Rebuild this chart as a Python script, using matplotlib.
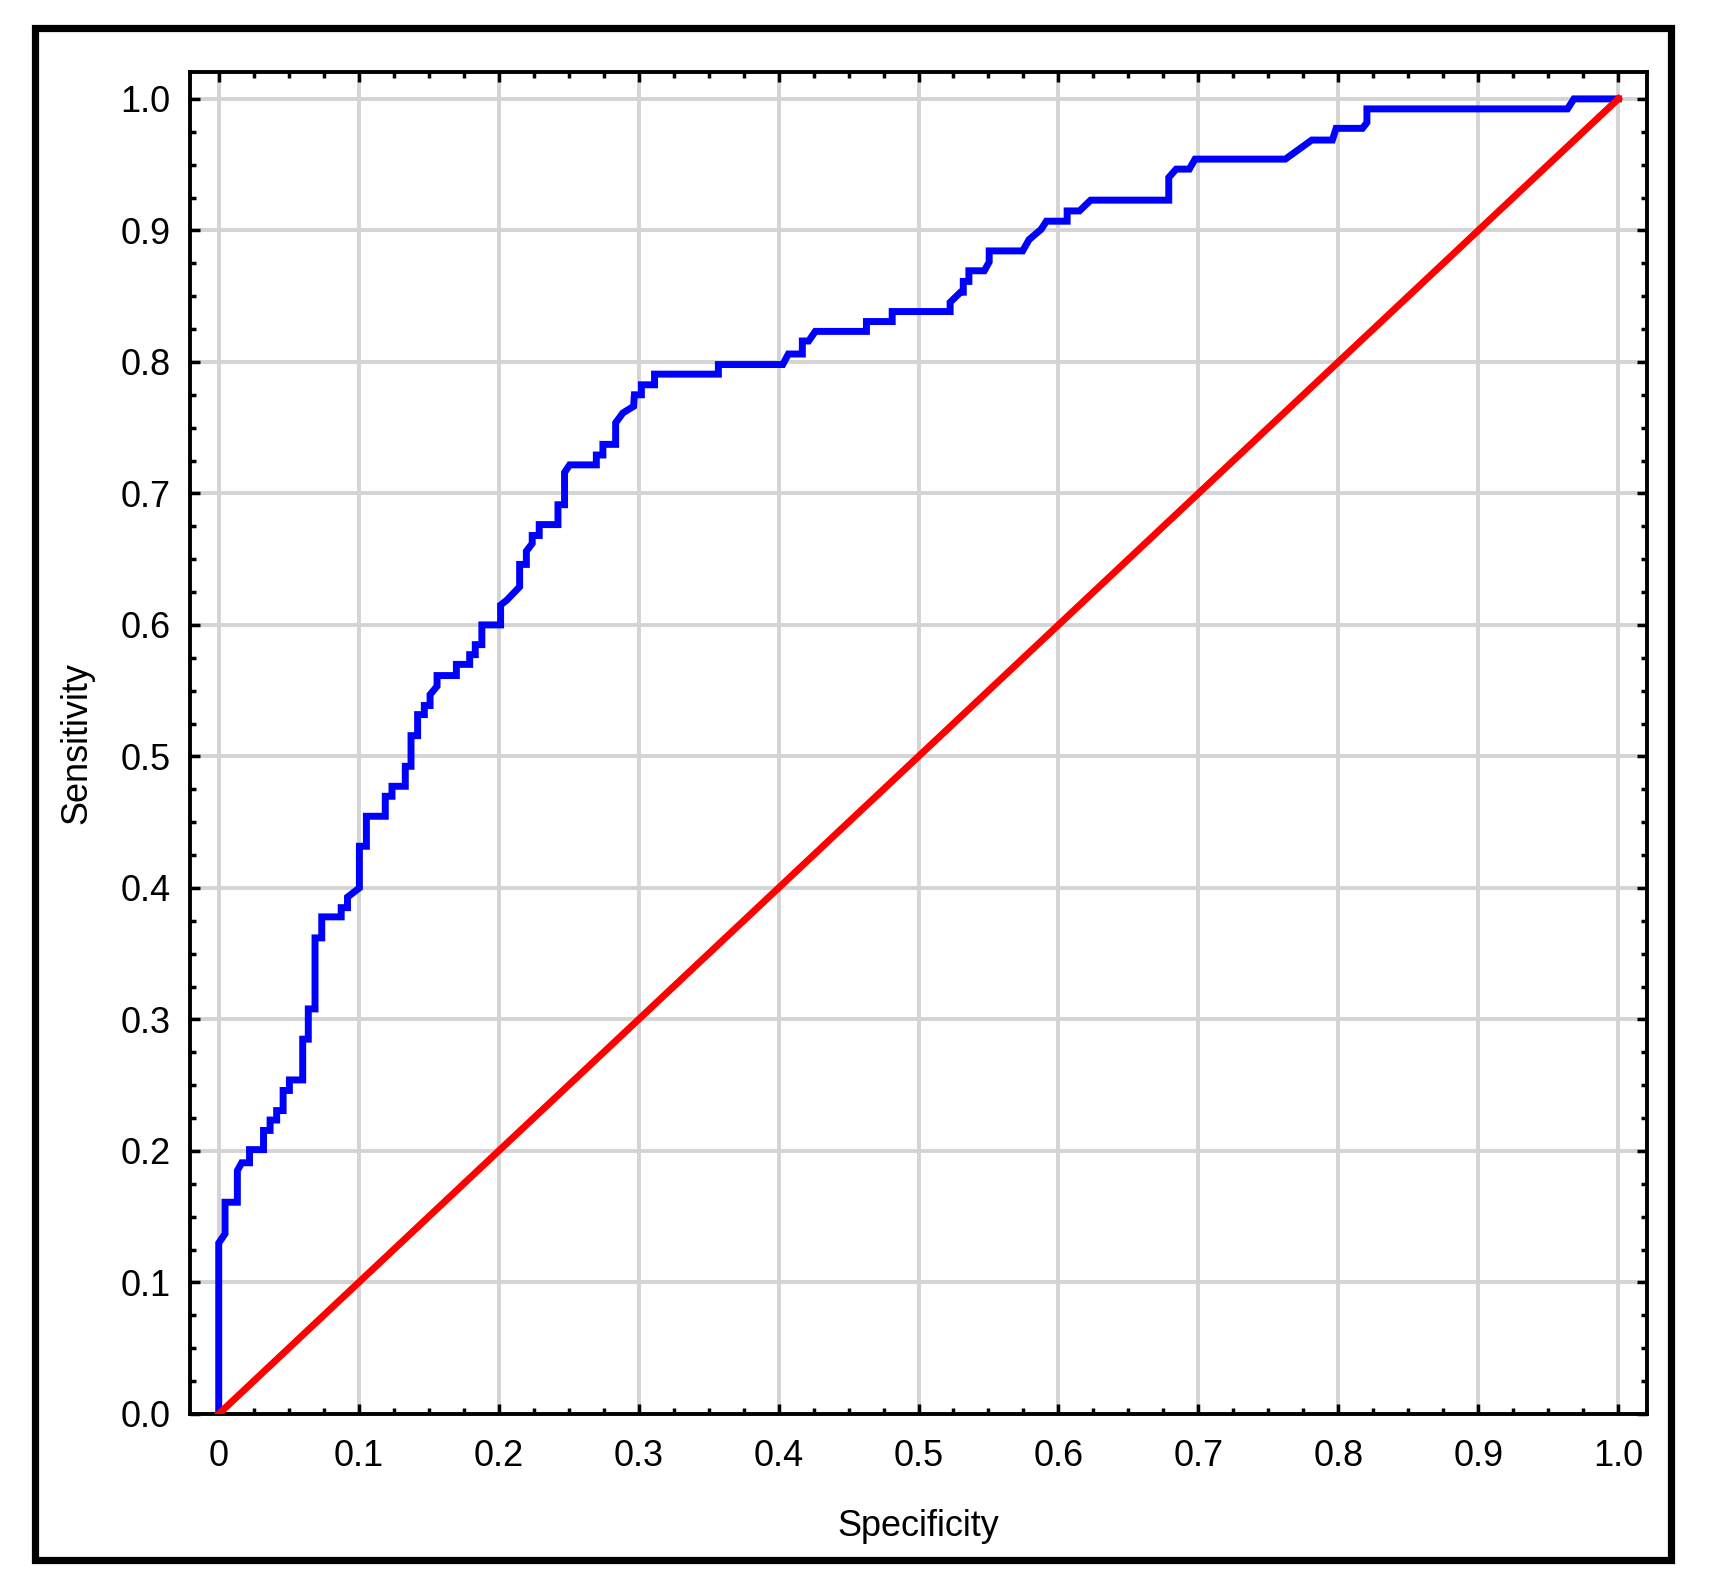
import matplotlib.pyplot as plt
from matplotlib.patches import Rectangle
from matplotlib.ticker import MultipleLocator

plt.rcParams['font.family'] = ['Liberation Sans', 'DejaVu Sans']

# ROC curve vertices (specificity axis, sensitivity)
spec = [0, 0, 0.0045, 0.0045, 0.0133, 0.0133, 0.0164, 0.022, 0.022, 0.032, 0.032,
        0.0367, 0.0367, 0.0414, 0.0414, 0.046, 0.046, 0.0505, 0.0505, 0.06, 0.06,
        0.064, 0.064, 0.0688, 0.0688, 0.0736, 0.0736, 0.0875, 0.0875, 0.092, 0.092,
        0.1005, 0.1005, 0.1055, 0.1055, 0.119, 0.119, 0.1238, 0.1238, 0.1333, 0.1333,
        0.1374, 0.1374, 0.1421, 0.1421, 0.1469, 0.1469, 0.151, 0.151, 0.156, 0.156,
        0.1698, 0.1698, 0.1793, 0.1793, 0.1833, 0.1833, 0.188, 0.188, 0.2014, 0.2014,
        0.206, 0.215, 0.215, 0.2198, 0.2198, 0.224, 0.224, 0.229, 0.229, 0.2424, 0.2424,
        0.2471, 0.2471, 0.2507, 0.2698, 0.2698, 0.2745, 0.2745, 0.2836, 0.2836, 0.2888,
        0.2964, 0.297, 0.302, 0.302, 0.3114, 0.3114, 0.357, 0.357, 0.403, 0.407,
        0.417, 0.417, 0.4215, 0.4263, 0.4628, 0.4628, 0.4812, 0.4812, 0.5226, 0.5226,
        0.530, 0.532, 0.532, 0.536, 0.536, 0.547, 0.5505, 0.5505, 0.5744, 0.579,
        0.5876, 0.5914, 0.6062, 0.6062, 0.615, 0.623, 0.6788, 0.6788, 0.6841, 0.6935,
        0.6976, 0.7621, 0.781, 0.7957, 0.7984, 0.8172, 0.8204, 0.8204, 0.9637, 0.9683, 1.0]
sens = [0, 0.130, 0.137, 0.161, 0.161, 0.185, 0.191, 0.191, 0.201, 0.201, 0.2156,
        0.2156, 0.2235, 0.2235, 0.2307, 0.2307, 0.246, 0.246, 0.254, 0.254, 0.285,
        0.285, 0.308, 0.308, 0.362, 0.362, 0.378, 0.378, 0.385, 0.385, 0.393,
        0.4, 0.4317, 0.4317, 0.4545, 0.4545, 0.4697, 0.4697, 0.4773, 0.4773, 0.4925,
        0.4925, 0.5158, 0.5158, 0.5318, 0.5318, 0.5387, 0.5387, 0.547, 0.5534, 0.5615,
        0.5615, 0.570, 0.570, 0.5774, 0.5774, 0.585, 0.585, 0.6, 0.6, 0.6151,
        0.619, 0.629, 0.646, 0.646, 0.656, 0.662, 0.668, 0.668, 0.6763, 0.6763, 0.6914,
        0.6914, 0.7159, 0.7217, 0.7217, 0.7292, 0.7292, 0.7373, 0.7373, 0.7537, 0.7612,
        0.7662, 0.775, 0.775, 0.7826, 0.7826, 0.7907, 0.7907, 0.798, 0.798, 0.806,
        0.806, 0.8159, 0.8159, 0.8232, 0.8232, 0.8307, 0.8307, 0.8383, 0.8383, 0.8453,
        0.853, 0.853, 0.8612, 0.8612, 0.8693, 0.8693, 0.876, 0.8844, 0.8844, 0.893,
        0.9008, 0.907, 0.907, 0.9148, 0.9148, 0.923, 0.923, 0.9402, 0.9466, 0.9466,
        0.9542, 0.9542, 0.9687, 0.9687, 0.9776, 0.9776, 0.982, 0.9924, 0.9924, 1.0, 1.0]
ref_line = [0, 1]
xticks = [0, 0.1, 0.2, 0.3, 0.4, 0.5, 0.6, 0.7, 0.8, 0.9, 1.0]
xticklabels = ["0", "0.1", "0.2", "0.3", "0.4", "0.5", "0.6", "0.7", "0.8", "0.9", "1.0"]
yticks = [0, 0.1, 0.2, 0.3, 0.4, 0.5, 0.6, 0.7, 0.8, 0.9, 1.0]
yticklabels = ["0.0", "0.1", "0.2", "0.3", "0.4", "0.5", "0.6", "0.7", "0.8", "0.9", "1.0"]

fig = plt.figure(figsize=(17.09, 15.95), dpi=100)
ax = fig.add_axes([0.1112, 0.1135, 0.8525, 0.8414])

ax.plot(spec, sens, color="#0000ff", lw=5.0, solid_joinstyle="miter", zorder=3)
ax.plot(ref_line, ref_line, color="#ff0000", lw=5.0, zorder=3)

ax.set_xlim(-0.0205, 1.0205)
ax.set_ylim(0, 1.0205)
ax.set_xticks(xticks)
ax.set_xticklabels(xticklabels)
ax.set_yticks(yticks)
ax.set_yticklabels(yticklabels)
ax.xaxis.set_minor_locator(MultipleLocator(0.025))
ax.yaxis.set_minor_locator(MultipleLocator(0.025))
ax.grid(True, which="major", color="#d4d4d4", lw=2.8, zorder=0)
ax.set_axisbelow(True)

ax.tick_params(which="both", direction="in", top=True, right=True, color="black")
ax.tick_params(which="major", length=7, width=2.5, labelsize=26)
ax.tick_params(axis="x", which="major", pad=18)
ax.tick_params(axis="y", which="major", pad=14)
ax.tick_params(which="minor", length=4, width=2.5)
for s in ax.spines.values():
    s.set_linewidth(2.8)
    s.set_color("black")

ax.set_xlabel("Specificity", fontsize=26, labelpad=25)
ax.set_ylabel("Sensitivity", fontsize=26, labelpad=19)

# outer black frame
fig.patches.append(Rectangle((0.0202, 0.0219), 0.9573, 0.9605, transform=fig.transFigure,
                             fill=False, edgecolor="black", lw=5.2))

fig.savefig("out.png", dpi=100)
